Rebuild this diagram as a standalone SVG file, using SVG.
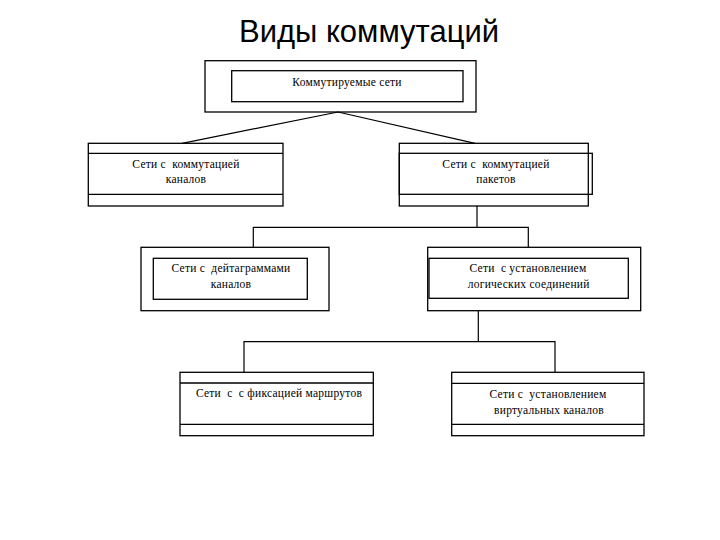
<svg xmlns="http://www.w3.org/2000/svg" width="720" height="540" viewBox="0 0 720 540">
<style>
.b{fill:none;stroke:#000;stroke-width:1.3}
.c{fill:none;stroke:#000;stroke-width:1.2}
.t{font-family:"Liberation Serif","Times New Roman",serif;font-size:11.5px;letter-spacing:0.25px;fill:#000;text-anchor:middle}
.h{font-family:"Liberation Sans",Arial,sans-serif;font-size:31px;fill:#000;text-anchor:middle}
</style>
<rect width="720" height="540" fill="#fff"/>
<text class="h" x="369" y="41.5">Виды коммутаций</text>
<g id="connectors">
<path class="c" d="M338 112 L182 143.3 M338 112 L475 143.3"/>
<path class="c" d="M477 206 V227.3 M253.3 247.3 V227.3 H528.3 V247.3"/>
<path class="c" d="M478.3 310.7 V341.7 M244 372.3 V341.7 H555 V372.3"/>
</g>
<g id="n1">
<rect class="b" x="205" y="60.7" width="271" height="51.3"/>
<rect class="b" x="231.7" y="70.7" width="231.3" height="31"/>
<text class="t" x="347" y="86" xml:space="preserve">Коммутируемые сети</text>
</g>
<g id="n2">
<rect class="b" x="88.3" y="143.3" width="194.7" height="62.7"/>
<path class="b" d="M88.3 153.3 H283 M88.3 194.3 H283"/>
<text class="t" x="186" y="167.7" xml:space="preserve">Сети с  коммутацией</text>
<text class="t" x="186" y="183.3">каналов</text>
</g>
<g id="n3">
<rect class="b" x="399.3" y="143.3" width="189" height="62.7"/>
<rect class="b" x="399.3" y="153.3" width="193" height="41"/>
<text class="t" x="496" y="167.7" xml:space="preserve">Сети с  коммутацией</text>
<text class="t" x="496" y="183.3">пакетов</text>
</g>
<g id="n4">
<rect class="b" x="141" y="247.3" width="188" height="63.4"/>
<rect class="b" x="153.3" y="258.3" width="154" height="41"/>
<text class="t" x="231" y="271.7" xml:space="preserve">Сети с  дейтаграммами</text>
<text class="t" x="231" y="287.7">каналов</text>
</g>
<g id="n5">
<rect class="b" x="427.7" y="247.3" width="213" height="63.4"/>
<rect class="b" x="429" y="258.3" width="199.3" height="40"/>
<text class="t" x="528" y="271.7" xml:space="preserve">Сети  с установлением</text>
<text class="t" x="528.7" y="287.7">логических соединений</text>
</g>
<g id="n6">
<rect class="b" x="180" y="372.3" width="193.3" height="63.4"/>
<path class="b" d="M180 383 H373.3 M180 424.3 H373.3"/>
<text class="t" x="279" y="396.7" xml:space="preserve">Сети  с  с фиксацией маршрутов</text>
</g>
<g id="n7">
<rect class="b" x="451.7" y="372.3" width="192.3" height="63.4"/>
<path class="b" d="M451.7 383.3 H644 M451.7 424.3 H644"/>
<text class="t" x="548" y="397.7" xml:space="preserve">Сети с  установлением</text>
<text class="t" x="549" y="414">виртуальных каналов</text>
</g>
</svg>
